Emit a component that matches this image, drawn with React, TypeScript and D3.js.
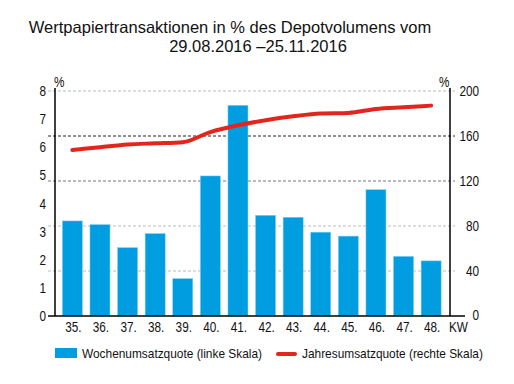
import * as d3 from "d3";

const weeks = ["35.", "36.", "37.", "38.", "39.", "40.", "41.", "42.", "43.", "44.", "45.", "46.", "47.", "48."];
const weeklyRate = [3.38, 3.25, 2.43, 2.93, 1.33, 4.98, 7.49, 3.58, 3.51, 2.98, 2.84, 4.49, 2.12, 1.96];
const yearlyRate = [147.5, 150, 152.5, 153.5, 154.5, 163.5, 169.5, 174, 177.5, 180, 180.5, 184, 185.5, 187];
const leftTicks = [0, 1, 2, 3, 4, 5, 6, 7, 8];
const rightTicks = [0, 40, 80, 120, 160, 200];

const W = 514;
const H = 384;
const left = 55;
const right = 450;
const top = 91;
const bottom = 316;

const BLUE = "#009ee0";
const RED = "#e3261d";
const sans = "'Liberation Sans', Arial, sans-serif";

// narrow-looking label: regular sans squeezed horizontally
function Label({ x, y, anchor = "start", size = 14, sx = 0.84, children }: any) {
  return (
    <text
      transform={`translate(${x},${y}) scale(${sx},1)`}
      textAnchor={anchor}
      fontFamily={sans}
      fontSize={size}
      fill="#111"
    >
      {children}
    </text>
  );
}

function App() {
  const x = d3.scaleBand<string>().domain(weeks).range([58.5, 445]).paddingInner(0.275).paddingOuter(0.14);
  const yL = d3.scaleLinear().domain([0, 8]).range([bottom, top]);
  const yR = d3.scaleLinear().domain([0, 200]).range([bottom, top]);

  const line = d3
    .line<number>()
    .x((_, i) => (x(weeks[i]) ?? 0) + x.bandwidth() / 2)
    .y((d) => yR(d))
    .curve(d3.curveMonotoneX);

  const gridColor = (v: number) => (v === 160 ? "#222" : v === 120 ? "#777" : "#bbb");

  return (
    <svg width={W} height={H} style={{ position: "absolute", left: 0, top: 0, background: "#fff" }}>
      <text x={230} y={33} textAnchor="middle" fontFamily={sans} fontSize={16.5} fill="#111">
        Wertpapiertransaktionen in % des Depotvolumens vom
      </text>
      <text x={258} y={52} textAnchor="middle" fontFamily={sans} fontSize={16.5} fill="#111">
        29.08.2016 –25.11.2016
      </text>

      {rightTicks
        .filter((v) => v > 0)
        .map((v) => (
          <line
            key={v}
            x1={48}
            x2={455}
            y1={yR(v)}
            y2={yR(v)}
            stroke={gridColor(v)}
            strokeWidth={1}
            strokeDasharray="3,2"
          />
        ))}

      {weeklyRate.map((v, i) => (
        <rect
          key={weeks[i]}
          x={x(weeks[i])}
          y={yL(v)}
          width={x.bandwidth()}
          height={bottom - yL(v)}
          fill={BLUE}
          stroke="#7fcff0"
          strokeWidth={0.5}
        />
      ))}

      <path d={line(yearlyRate) ?? ""} fill="none" stroke={RED} strokeWidth={4} strokeLinecap="round" />

      <line x1={left} x2={left} y1={top - 3} y2={bottom} stroke="#000" strokeWidth={1.5} />
      <line x1={right} x2={right} y1={top - 3} y2={bottom} stroke="#000" strokeWidth={1.5} />
      <line x1={48} x2={465} y1={bottom} y2={bottom} stroke="#000" strokeWidth={1.5} />

      {leftTicks.map((v) => (
        <Label key={v} x={46} y={yL(v) + 5} anchor="end">
          {v}
        </Label>
      ))}
      {rightTicks.map((v) => (
        <Label key={v} x={479} y={yR(v) + (v === 0 ? 4 : 5)} anchor="end">
          {v}
        </Label>
      ))}

      {weeks.map((w) => (
        <Label key={w} x={(x(w) ?? 0) + x.bandwidth() / 2 + 1} y={332} anchor="middle">
          {w}
        </Label>
      ))}
      <Label x={449} y={332}>
        KW
      </Label>
      <Label x={54} y={87}>
        %
      </Label>
      <Label x={439} y={87}>
        %
      </Label>

      <rect x={55} y={348} width={22} height={10} fill={BLUE} />
      <Label x={82} y={358} size={13} sx={0.915}>
        Wochenumsatzquote (linke Skala)
      </Label>
      <line x1={278} x2={295} y1={354} y2={354} stroke={RED} strokeWidth={4} strokeLinecap="round" />
      <Label x={302} y={358} size={13} sx={0.915}>
        Jahresumsatzquote (rechte Skala)
      </Label>
    </svg>
  );
}

export default App;
